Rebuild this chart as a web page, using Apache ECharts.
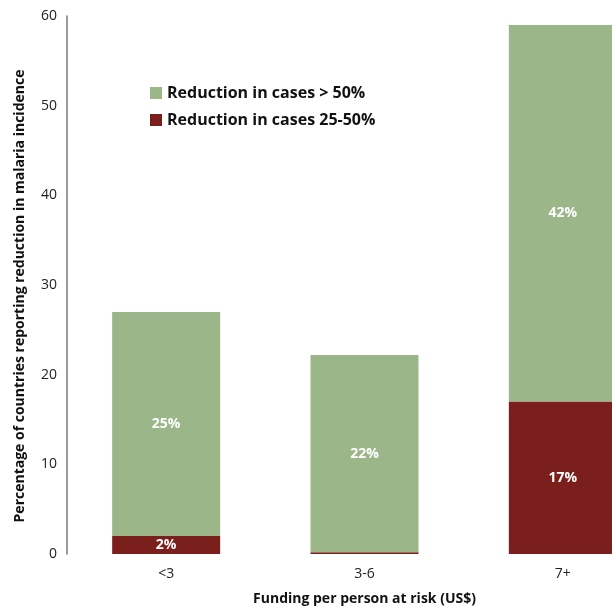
<!DOCTYPE html>
<html><head><meta charset="utf-8">
<script src="https://cdn.jsdelivr.net/npm/echarts@6/dist/echarts.min.js"></script>
<style>html,body{margin:0;padding:0;background:#fff}#c{width:612px;height:610px}</style>
</head><body><div id="c"></div>
<script>
const categories = ['<3', '3-6', '7+'];
const reduction25to50 = [2, 0.2, 17];
const reductionOver50 = [25, 22, 42];
const seriesNames = ['Reduction in cases > 50%', 'Reduction in cases 25-50%'];
const yTicks = {min: 0, max: 60, interval: 10};

const FONT = '"Open Sans", "Noto Sans", sans-serif';
const chart = echarts.init(document.getElementById('c'));
const lbl = {
  show: true, position: 'inside', color: '#fff', fontWeight: 'bold', fontSize: 14, fontFamily: FONT,
  formatter: p => p.value >= 1 ? p.value + '%' : ''
};
chart.setOption({
  animation: false,
  grid: {left: 67, top: 16, width: 595, height: 538, containLabel: false, outerBoundsMode: 'none'},
  legend: {
    data: seriesNames, orient: 'vertical', left: 145, top: 80,
    itemWidth: 12, itemHeight: 12, itemGap: 11, icon: 'rect',
    textStyle: {fontSize: 16, fontWeight: 'bold', color: '#111', fontFamily: FONT}
  },
  xAxis: {
    type: 'category', data: categories,
    axisLine: {show: false}, axisTick: {show: false},
    axisLabel: {fontSize: 14, color: '#222', margin: 13, fontFamily: FONT},
    name: 'Funding per person at risk (US$)', nameLocation: 'middle', nameGap: 38,
    nameTextStyle: {fontSize: 14, fontWeight: 'bold', color: '#111', fontFamily: FONT}
  },
  yAxis: {
    type: 'value', min: yTicks.min, max: yTicks.max, interval: yTicks.interval,
    splitLine: {show: false},
    axisLine: {show: true, lineStyle: {color: '#777', width: 1.5}}, axisTick: {show: false},
    axisLabel: {fontSize: 14, color: '#222', margin: 10, fontFamily: FONT},
    name: 'Percentage of countries reporting reduction in malaria incidence',
    nameLocation: 'middle', nameGap: 40, nameRotate: 90,
    nameTextStyle: {fontSize: 14, fontWeight: 'bold', color: '#111', fontFamily: FONT, padding: [0, 22, 0, 0]}
  },
  series: [
    {name: seriesNames[1], type: 'bar', stack: 's', data: reduction25to50, barWidth: 108,
     itemStyle: {color: '#7B1F1D'}, label: lbl},
    {name: seriesNames[0], type: 'bar', stack: 's', data: reductionOver50, barWidth: 108,
     itemStyle: {color: '#9BB78A'}, label: lbl}
  ]
});
</script></body></html>
